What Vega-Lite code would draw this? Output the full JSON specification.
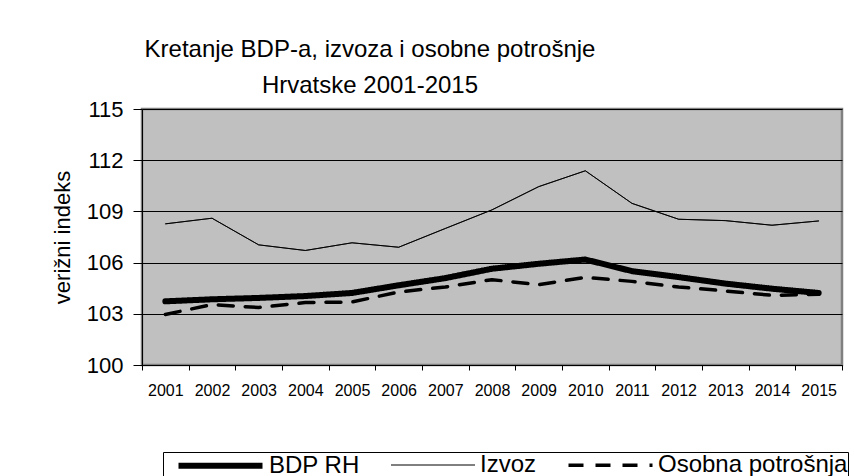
{
  "$schema": "https://vega.github.io/schema/vega-lite/v6.json",
  "width": 700,
  "height": 256,
  "autosize": {"type": "none"},
  "padding": {"left": 142, "top": 109, "right": 12, "bottom": 111},
  "background": "white",
  "title": {
    "text": ["Kretanje BDP-a, izvoza i osobne potrošnje", "Hrvatske 2001-2015"],
    "font": "Liberation Sans",
    "fontSize": 24,
    "fontWeight": "normal",
    "color": "black",
    "anchor": "middle",
    "dx": -122,
    "lineHeight": 36,
    "offset": 0
  },
  "data": {
    "values": [
      {"year": "2001", "s": "BDP RH", "v": 103.73},
      {"year": "2002", "s": "BDP RH", "v": 103.85},
      {"year": "2003", "s": "BDP RH", "v": 103.93},
      {"year": "2004", "s": "BDP RH", "v": 104.04},
      {"year": "2005", "s": "BDP RH", "v": 104.22},
      {"year": "2006", "s": "BDP RH", "v": 104.67},
      {"year": "2007", "s": "BDP RH", "v": 105.09},
      {"year": "2008", "s": "BDP RH", "v": 105.64},
      {"year": "2009", "s": "BDP RH", "v": 105.93},
      {"year": "2010", "s": "BDP RH", "v": 106.18},
      {"year": "2011", "s": "BDP RH", "v": 105.5},
      {"year": "2012", "s": "BDP RH", "v": 105.15},
      {"year": "2013", "s": "BDP RH", "v": 104.77},
      {"year": "2014", "s": "BDP RH", "v": 104.47},
      {"year": "2015", "s": "BDP RH", "v": 104.22},
      {"year": "2001", "s": "Izvoz", "v": 108.27},
      {"year": "2002", "s": "Izvoz", "v": 108.6},
      {"year": "2003", "s": "Izvoz", "v": 107.04},
      {"year": "2004", "s": "Izvoz", "v": 106.71},
      {"year": "2005", "s": "Izvoz", "v": 107.16},
      {"year": "2006", "s": "Izvoz", "v": 106.9},
      {"year": "2007", "s": "Izvoz", "v": 108.0},
      {"year": "2008", "s": "Izvoz", "v": 109.09},
      {"year": "2009", "s": "Izvoz", "v": 110.45},
      {"year": "2010", "s": "Izvoz", "v": 111.38},
      {"year": "2011", "s": "Izvoz", "v": 109.47},
      {"year": "2012", "s": "Izvoz", "v": 108.54},
      {"year": "2013", "s": "Izvoz", "v": 108.46},
      {"year": "2014", "s": "Izvoz", "v": 108.19},
      {"year": "2015", "s": "Izvoz", "v": 108.44},
      {"year": "2001", "s": "Osobna potrošnja", "v": 102.96},
      {"year": "2002", "s": "Osobna potrošnja", "v": 103.54},
      {"year": "2003", "s": "Osobna potrošnja", "v": 103.37},
      {"year": "2004", "s": "Osobna potrošnja", "v": 103.66},
      {"year": "2005", "s": "Osobna potrošnja", "v": 103.69},
      {"year": "2006", "s": "Osobna potrošnja", "v": 104.28},
      {"year": "2007", "s": "Osobna potrošnja", "v": 104.57},
      {"year": "2008", "s": "Osobna potrošnja", "v": 105.0},
      {"year": "2009", "s": "Osobna potrošnja", "v": 104.71},
      {"year": "2010", "s": "Osobna potrošnja", "v": 105.13},
      {"year": "2011", "s": "Osobna potrošnja", "v": 104.9},
      {"year": "2012", "s": "Osobna potrošnja", "v": 104.57},
      {"year": "2013", "s": "Osobna potrošnja", "v": 104.34},
      {"year": "2014", "s": "Osobna potrošnja", "v": 104.08},
      {"year": "2015", "s": "Osobna potrošnja", "v": 104.14}
    ]
  },
  "mark": {"type": "line", "strokeCap": "round", "strokeJoin": "round", "color": "black"},
  "encoding": {
    "x": {
      "field": "year",
      "type": "ordinal",
      "scale": {"type": "band", "paddingInner": 0, "paddingOuter": 0},
      "axis": {
        "title": null,
        "labelAngle": 0,
        "labelFontSize": 16,
        "labelPadding": 12,
        "tickBand": "extent",
        "tickSize": 5,
        "tickColor": "black",
        "domainColor": "black",
        "grid": false
      }
    },
    "y": {
      "field": "v",
      "type": "quantitative",
      "scale": {"domain": [100, 115], "nice": false, "zero": false},
      "axis": {
        "values": [100, 103, 106, 109, 112, 115],
        "title": "verižni indeks",
        "titleFontSize": 22,
        "titleFontWeight": "normal",
        "titlePadding": 12,
        "labelFontSize": 22,
        "labelPadding": 10,
        "tickSize": 9,
        "tickColor": "black",
        "domainColor": "black",
        "grid": true,
        "gridColor": "black",
        "gridWidth": 1,
        "gridOpacity": 1
      }
    },
    "strokeWidth": {
      "field": "s",
      "type": "nominal",
      "scale": {"type": "ordinal", "domain": ["BDP RH", "Izvoz", "Osobna potrošnja"], "range": [6, 1, 3.5]},
      "legend": {"title": null}
    },
    "strokeDash": {
      "field": "s",
      "type": "nominal",
      "scale": {"domain": ["BDP RH", "Izvoz", "Osobna potrošnja"], "range": [[1, 0], [1, 0], [15, 12]]},
      "legend": {"title": null}
    }
  },
  "config": {
    "font": "Liberation Sans",
    "view": {"fill": "#C0C0C0", "stroke": "#808080", "strokeWidth": 2.5},
    "axis": {"labelColor": "black", "titleColor": "black", "labelFont": "Liberation Sans", "titleFont": "Liberation Sans"},
    "legend": {
      "orient": "none",
      "legendX": 21,
      "legendY": 343,
      "direction": "horizontal",
      "strokeColor": "black",
      "padding": 0,
      "symbolType": "M-4,0H4",
      "symbolSize": 441,
      "symbolOffset": 44,
      "symbolStrokeColor": "black",
      "labelFontSize": 24,
      "labelFont": "Liberation Sans",
      "labelColor": "black",
      "labelOffset": 35,
      "labelLimit": 400,
      "columnPadding": 17
    }
  }
}
